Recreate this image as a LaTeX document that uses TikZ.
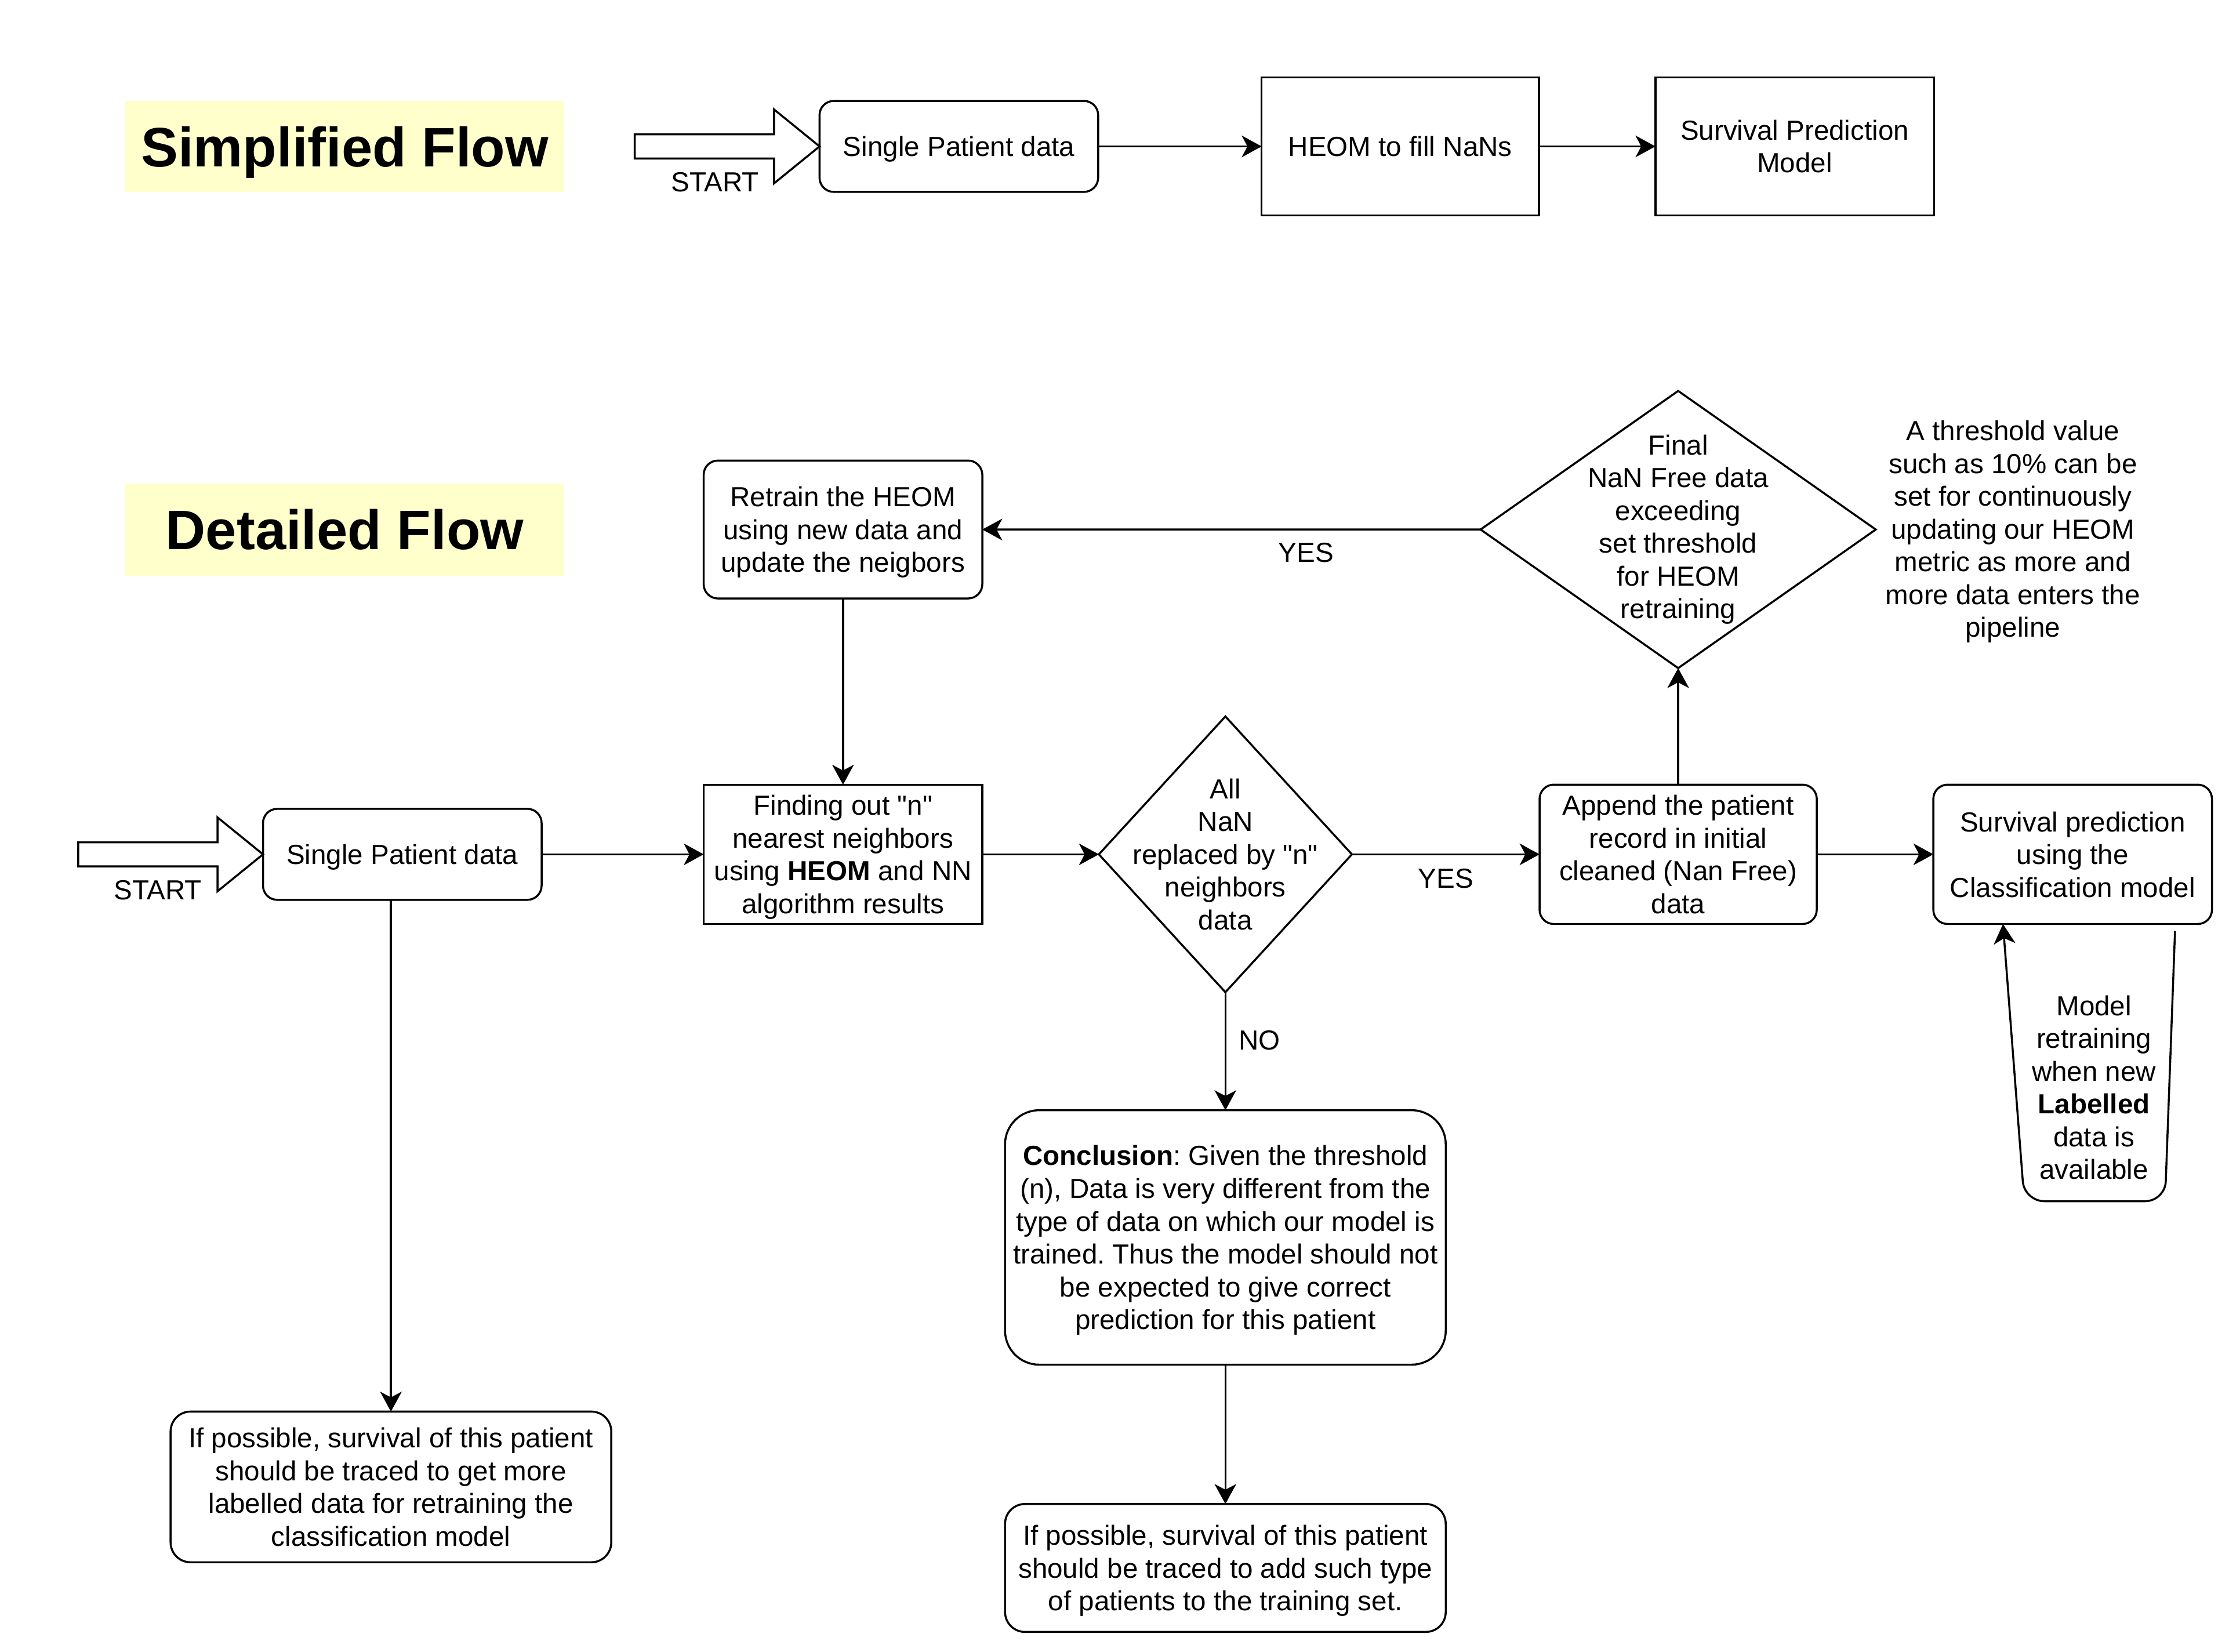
\documentclass[tikz,border=0pt]{standalone}
\usepackage{fontspec}
\setmainfont{Liberation Sans}[Ligatures=TeXOff]
\frenchspacing
\usetikzlibrary{arrows.meta,positioning,shapes.geometric}
\definecolor{titleyellow}{RGB}{255,255,204}
\newcommand{\StartArrow}[1]{\draw[bigarrow] #1 -- ++(-0.8, 0.65) -- ++(0, -0.4375) -- ++(-2.45, 0) -- ++(0, -0.425) -- ++(2.45, 0) -- ++(0, -0.4375) -- cycle;}

\begin{document}
\begin{tikzpicture}[
		font=\fontsize{13.8}{16.4}\selectfont,
		every node/.style={align=center},
		box/.style={draw, line width=1pt, minimum width=4.9cm, inner sep=2pt, outer sep=0pt, text depth=0pt},
		rbox/.style={box, rounded corners=0.25cm},
		decision/.style={draw, line width=1pt, diamond, inner sep=0pt, outer sep=0pt},
		heading/.style={fill=titleyellow, minimum width=7.725cm, minimum height=1.6cm, text depth=0pt, font=\fontsize{27.8}{33}\selectfont\bfseries},
		flow/.style={draw, line width=1pt, -{Stealth[length=0.35cm, width=0.38cm, inset=0.1cm]}},
		bigarrow/.style={draw, line width=1pt, line join=miter}
	]
		\useasboundingbox (0, 0) rectangle (39.2, -29.05);
		
		\node[heading] (SimplifiedTitle) at (6.0625, -2.575) {Simplified Flow};
		\node[rbox, minimum height=1.6cm] (SingleTop) at (16.8625, -2.575) {Single Patient data};
		\node[box, minimum width=4.875cm, minimum height=2.425cm, right=2.875cm of SingleTop] (HeomFill) {HEOM to fill NaNs};
		\node[box, minimum height=2.425cm, right=2.05cm of HeomFill] (SurvivalModel) {Survival Prediction\\Model};
		\StartArrow{(SingleTop.west)}
		\node (StartTopLabel) at (12.575, -3.2) {START};
		
		\draw[flow] (SingleTop) -- (HeomFill);
		\draw[flow] (HeomFill) -- (SurvivalModel);
		
		\node[heading, minimum height=1.625cm] (DetailedTitle) at (6.0625, -9.3125) {Detailed Flow};
		\node[rbox, minimum height=1.6cm] (SingleDetail) at (7.075, -15.025) {Single Patient data};
		\StartArrow{(SingleDetail.west)}
		\node (StartDetailLabel) at (2.775, -15.65) {START};
		\node[box, minimum height=2.45cm, right=2.85cm of SingleDetail] (Neighbours) {Finding out "n"\\nearest neighbors\\using \textbf{HEOM} and NN\\algorithm results};
		\node[rbox, minimum height=2.425cm, above=3.275cm of Neighbours] (Retrain) {Retrain the HEOM\\using new data and\\update the neigbors};
		\node[decision, minimum width=4.45cm, minimum height=4.85cm, right=2.05cm of Neighbours] (AllReplaced) {};
		\node (AllReplacedText) at (AllReplaced) {All\\NaN\\replaced by "n"\\neighbors\\data};
		\node[rbox, minimum width=4.875cm, minimum height=2.45cm, right=3.3cm of AllReplaced] (Append) {Append the patient\\record in initial\\cleaned (Nan Free)\\data};
		\node[rbox, minimum height=2.45cm, right=2.05cm of Append] (Classify) {Survival prediction\\using the\\Classification model};
		\node[decision, minimum width=6.95cm, minimum height=4.875cm, above=2.05cm of Append] (Threshold) {};
		\node (ThresholdText) at (Threshold) {Final\\NaN Free data\\exceeding\\set threshold\\for HEOM\\retraining};
		\node (ThresholdNote) at (35.4, -9.35) {A threshold value\\such as 10\% can be\\set for continuously\\updating our HEOM\\metric as more and\\more data enters the\\pipeline};
		\node[rbox, rounded corners=0.6cm, minimum width=7.75cm, minimum height=4.475cm, below=2.075cm of AllReplaced] (Conclusion) {\textbf{Conclusion}: Given the threshold\\(n), Data is very different from the\\type of data on which our model is\\trained. Thus the model should not\\be expected to give correct\\prediction for this patient};
		\node[rbox, rounded corners=0.35cm, minimum width=7.75cm, minimum height=2.25cm, below=2.45cm of Conclusion] (TraceTraining) {If possible, survival of this patient\\should be traced to add such type\\of patients to the training set.};
		\node[rbox, rounded corners=0.35cm, minimum width=7.75cm, minimum height=2.65cm] (TraceLabelled) at (6.875, -26.15) {If possible, survival of this patient\\should be traced to get more\\labelled data for retraining the\\classification model};
		\node (RetrainNote) at (36.825, -19.125) {Model\\retraining\\when new\\\textbf{Labelled}\\data is\\available};
		
		\draw[flow] (SingleDetail) -- (Neighbours);
		\draw[flow] (SingleDetail.south -| TraceLabelled.north) -- (TraceLabelled);
		\draw[flow] (Retrain) -- (Neighbours);
		\draw[flow] (Neighbours) -- (AllReplaced);
		\draw[flow] (AllReplaced) -- node[yshift=-0.425cm] (YesAppend) {YES} (Append);
		\draw[flow] (AllReplaced) -- node[pos=0.41, xshift=0.6cm] (NoMatch) {NO} (Conclusion);
		\draw[flow] (Conclusion) -- (TraceTraining);
		\draw[flow] (Append) -- (Threshold);
		\draw[flow] (Threshold) -- node[pos=0.35, yshift=-0.41cm] (YesRetrain) {YES} (Retrain);
		\draw[flow] (Append) -- (Classify);
		\draw[flow, rounded corners=0.35cm] ([xshift=-0.65cm, yshift=-0.125cm]Classify.south east) -- ++(-0.175, -4.75) -- ++(-2.475, 0) -- ([xshift=1.225cm]Classify.south west);
	\end{tikzpicture}
\end{document}
